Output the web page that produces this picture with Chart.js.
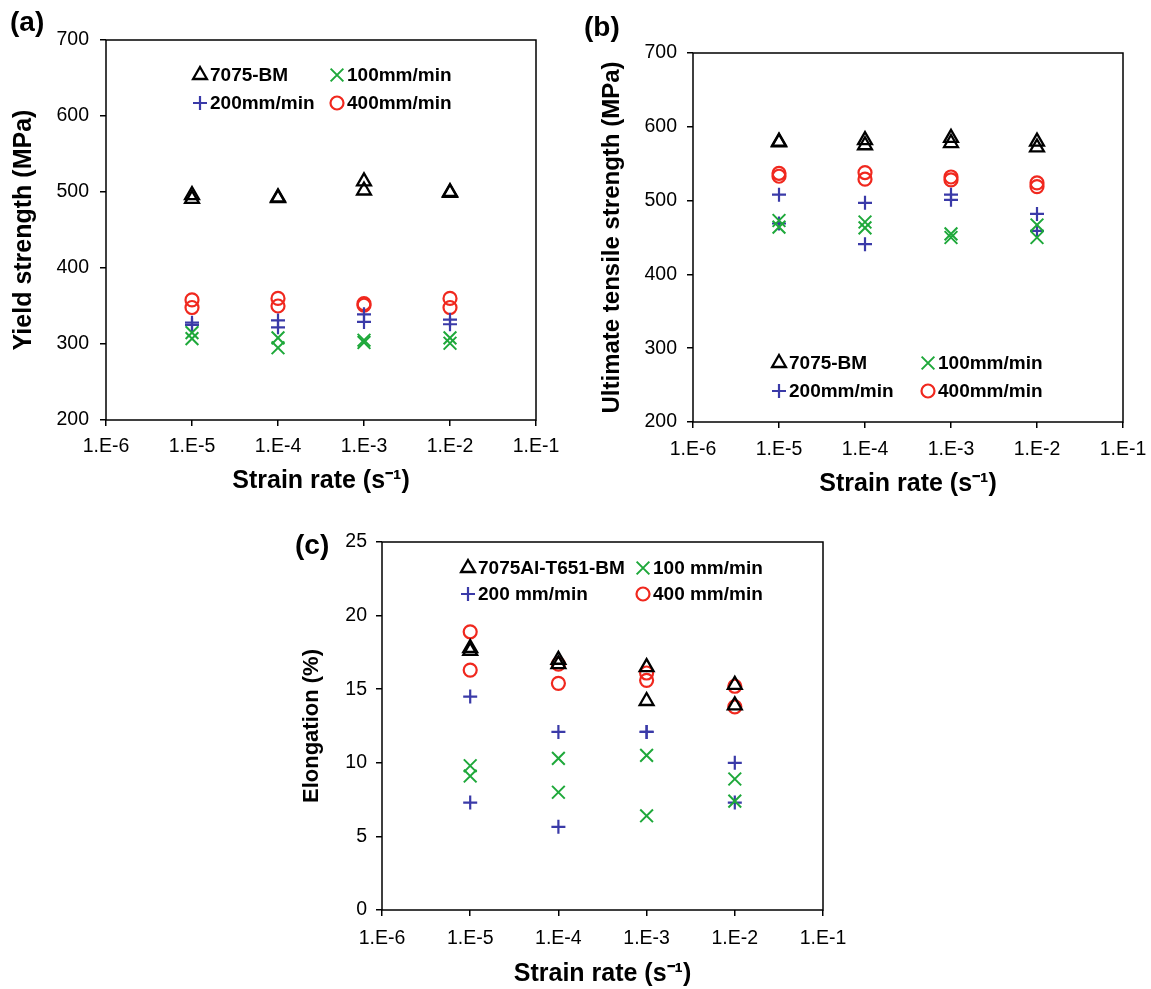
<!DOCTYPE html>
<html>
<head>
<meta charset="utf-8">
<script src="https://cdn.jsdelivr.net/npm/chart.js@4.4.1/dist/chart.umd.min.js"></script>
<style>
  body { margin: 0; background: #fff; }
  #wrap { position: relative; width: 1151px; height: 989px; overflow: hidden; }
  .panel { position: absolute; }
  .tag { position: absolute; font: bold 28px "Liberation Sans", Arial, sans-serif; line-height: 28px; color: #000; }
</style>
</head>
<body>
<div id="wrap">
  <div class="panel" style="left:0;top:0;width:560px;height:500px"><canvas id="chartA"></canvas></div>
  <div class="panel" style="left:560px;top:0;width:591px;height:500px"><canvas id="chartB"></canvas></div>
  <div class="panel" style="left:280px;top:500px;width:591px;height:489px"><canvas id="chartC"></canvas></div>
  <div class="tag" style="left:10px;top:8px">(a)</div>
  <div class="tag" style="left:584px;top:13px">(b)</div>
  <div class="tag" style="left:295px;top:531px">(c)</div>
</div>
<script>
// strain rates tested (s^-1) and axis ticks
const strainRates = [1e-5, 1e-4, 1e-3, 1e-2];
const xTickValues = [1e-6, 1e-5, 1e-4, 1e-3, 1e-2, 1e-1];
const xTickLabels = ['1.E-6', '1.E-5', '1.E-4', '1.E-3', '1.E-2', '1.E-1'];

const namesAB = ['7075-BM', '100mm/min', '200mm/min', '400mm/min'];
const namesC = ['7075Al-T651-BM', '100 mm/min', '200 mm/min', '400 mm/min'];

// (a) yield strength, MPa - two specimens per strain rate
const ysBM   = [[496, 491], [493, 492], [514, 502], [500, 499]];
const ys100  = [[315, 307], [308, 295], [305, 302], [308, 301]];
const ys200  = [[328, 325], [331, 322], [339, 329], [332, 326]];
const ys400  = [[358, 348], [360, 350], [353, 351], [360, 348]];

// (b) ultimate tensile strength, MPa
const utsBM  = [[580, 579], [582, 575], [585, 578], [580, 572]];
const uts100 = [[473, 464], [471, 463], [455, 450], [467, 450]];
const uts200 = [[508, 469], [497, 441], [508, 501], [482, 459]];
const uts400 = [[537, 533], [538, 529], [532, 528], [524, 519]];

// (c) elongation, %
const elBM   = [[17.8, 17.6], [17.0, 16.7], [16.5, 14.2], [15.3, 13.9]];
const el100  = [[9.8, 9.1], [10.3, 8.0], [10.5, 6.4], [8.9, 7.4]];
const el200  = [[14.5, 7.3], [12.1, 5.65], [12.1, 12.1], [10.0, 7.3]];
const el400  = [[18.9, 16.3], [16.7, 15.4], [16.1, 15.6], [15.2, 13.8]];

const FONT = '"Liberation Sans", Arial, sans-serif';
const COLORS = ['#000000', '#1ea83a', '#3a3aa8', '#f0281e'];
const STYLES = ['triangle', 'crossRot', 'cross', 'circle'];
const RADII = [8, 9, 7, 6.5];
const WIDTHS = [2.3, 2, 2.2, 2.2];

function toPoints(rows) {
  const pts = [];
  rows.forEach((vals, i) => vals.forEach(v => pts.push({ x: strainRates[i], y: v })));
  return pts;
}

function makeDatasets(names, series) {
  return series.map((s, i) => ({
    label: names[i],
    data: toPoints(s),
    pointStyle: STYLES[i],
    pointRadius: RADII[i],
    pointHoverRadius: RADII[i],
    borderColor: COLORS[i],
    backgroundColor: 'rgba(0,0,0,0)',
    borderWidth: WIDTHS[i],
    showLine: false
  }));
}

// black frame around the plot area
const frame = {
  id: 'frame',
  afterDatasetsDraw(chart) {
    const { ctx, chartArea: a } = chart;
    ctx.save();
    ctx.strokeStyle = '#000';
    ctx.lineWidth = 1.5;
    ctx.strokeRect(a.left, a.top, a.right - a.left, a.bottom - a.top);
    ctx.restore();
  }
};

// two-column legend placed inside the plot
const gridLegend = {
  id: 'gridLegend',
  afterDraw(chart, args, opts) {
    const { ctx, chartArea: a } = chart;
    ctx.save();
    ctx.font = 'bold 19px ' + FONT;
    ctx.textBaseline = 'middle';
    chart.data.datasets.forEach((ds, i) => {
      const x = a.left + opts.cols[i % 2];
      const y = a.top + opts.rows[Math.floor(i / 2)];
      ctx.fillStyle = 'rgba(0,0,0,0)';
      ctx.strokeStyle = ds.borderColor;
      ctx.lineWidth = ds.borderWidth;
      Chart.helpers.drawPoint(ctx, { pointStyle: ds.pointStyle, radius: ds.pointRadius, borderWidth: ds.borderWidth, rotation: 0 }, x, y);
      ctx.fillStyle = '#000';
      ctx.fillText(ds.label, x + 10, y + 1);
    });
    ctx.restore();
  }
};

function makeChart(id, cfg) {
  return new Chart(document.getElementById(id), {
    type: 'scatter',
    data: { datasets: makeDatasets(cfg.names, cfg.series) },
    options: {
      responsive: true,
      maintainAspectRatio: false,
      animation: false,
      layout: { padding: cfg.pad },
      plugins: {
        legend: { display: false },
        tooltip: { enabled: false },
        gridLegend: { cols: cfg.legendCols, rows: cfg.legendRows }
      },
      scales: {
        x: {
          type: 'logarithmic',
          min: 1e-6,
          max: 1e-1,
          afterBuildTicks: s => { s.ticks = xTickValues.map(v => ({ value: v })); },
          afterFit: s => { s.height = cfg.xHeight; s.paddingLeft = 0; s.paddingRight = 0; },
          border: { display: false },
          grid: { drawOnChartArea: false, drawTicks: true, tickLength: 6, color: '#000', lineWidth: 1.5 },
          ticks: {
            autoSkip: false, maxRotation: 0, padding: cfg.xTickPad, color: '#000',
            font: { family: FONT, size: 19.5 },
            callback: (v, i) => xTickLabels[i]
          },
          title: {
            display: true, text: 'Strain rate (s\u207B\u00B9)', color: '#000',
            font: { family: FONT, size: 25, weight: 'bold' },
            padding: { top: 0, bottom: cfg.xTitlePad }
          }
        },
        y: {
          min: cfg.yMin,
          max: cfg.yMax,
          afterFit: s => { s.width = cfg.yWidth; s.paddingTop = 0; s.paddingBottom = 0; },
          border: { display: false },
          grid: { drawOnChartArea: false, drawTicks: true, tickLength: 6, color: '#000', lineWidth: 1.5 },
          ticks: {
            stepSize: cfg.yStep, padding: cfg.yTickPad, color: '#000',
            font: { family: FONT, size: 19.5 }
          },
          title: {
            display: true, text: cfg.yTitle, color: '#000',
            font: { family: FONT, size: cfg.yTitleSize, weight: 'bold' },
            padding: { top: cfg.yTitlePad, bottom: 0 }
          }
        }
      }
    },
    plugins: [frame, gridLegend]
  });
}

makeChart('chartA', {
  names: namesAB, series: [ysBM, ys100, ys200, ys400],
  yMin: 200, yMax: 700, yStep: 100, yTitle: 'Yield strength (MPa)', yTitleSize: 25,
  pad: { left: 0, top: 40, right: 24, bottom: 0 },
  yWidth: 106, xHeight: 80, yTickPad: 11, yTitlePad: 9, xTickPad: 9, xTitlePad: 4,
  legendCols: [94, 231], legendRows: [35, 63]
});

makeChart('chartB', {
  names: namesAB, series: [utsBM, uts100, uts200, uts400],
  yMin: 200, yMax: 700, yStep: 100, yTitle: 'Ultimate tensile strength (MPa)', yTitleSize: 24,
  pad: { left: 0, top: 53, right: 28, bottom: 0 },
  yWidth: 133, xHeight: 78, yTickPad: 10, yTitlePad: 38, xTickPad: 10, xTitlePad: 1,
  legendCols: [86, 235], legendRows: [310, 338]
});

makeChart('chartC', {
  names: namesC, series: [elBM, el100, el200, el400],
  yMin: 0, yMax: 25, yStep: 5, yTitle: 'Elongation (%)', yTitleSize: 22,
  pad: { left: 0, top: 42, right: 48, bottom: 0 },
  yWidth: 102, xHeight: 79, yTickPad: 9, yTitlePad: 19, xTickPad: 11, xTitlePad: 0,
  legendCols: [86, 261], legendRows: [26, 52]
});
</script>
</body>
</html>
